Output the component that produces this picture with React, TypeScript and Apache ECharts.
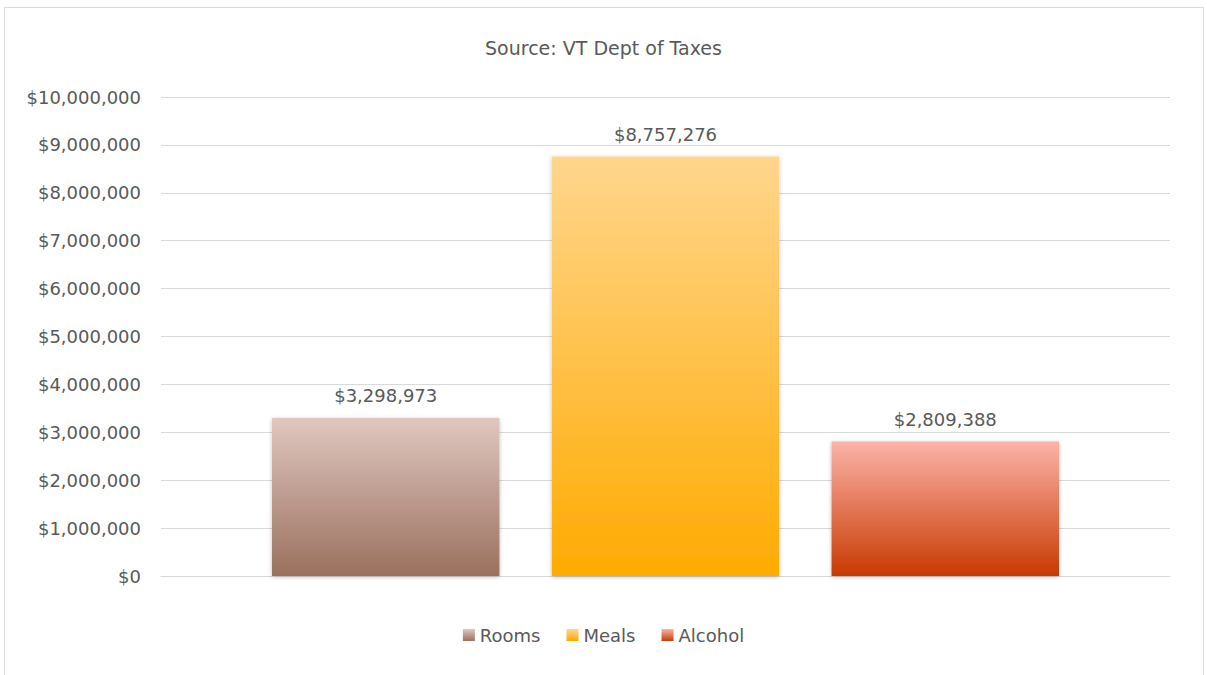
import React, { useEffect, useRef } from "react";
import * as echarts from "echarts";

const categories = [""];
const seriesNames = ["Rooms", "Meals", "Alcohol"];
const roomsValues = [3298973];
const mealsValues = [8757276];
const alcoholValues = [2809388];
const gradientTops = ["#e0c7c0", "#ffd68e", "#fcb3a9"];
const gradientBottoms = ["#9a705e", "#ffab00", "#c83a02"];

const fmt = (v: number) => "$" + Math.round(v).toLocaleString("en-US");

export default function App() {
  const ref = useRef<HTMLDivElement>(null);
  useEffect(() => {
    if (!ref.current) return;
    const chart = echarts.init(ref.current, undefined, { renderer: "svg" });
    const values = [roomsValues, mealsValues, alcoholValues];
    const font = "DejaVu Sans, Verdana, sans-serif";
    chart.setOption({
      animation: false,
      backgroundColor: "#ffffff",
      title: {
        text: "Source: VT Dept of Taxes",
        left: "center",
        top: 33,
        textStyle: { fontFamily: font, fontSize: 19, fontWeight: "normal", color: "#595959" },
      },
      graphic: [
        {
          type: "rect",
          shape: { x: 4.5, y: 7.5, width: 1199, height: 680 },
          style: { fill: "none", stroke: "#d9d9d9", lineWidth: 1 },
          silent: true,
        },
      ],
      legend: {
        bottom: 26,
        left: "center",
        itemWidth: 12,
        itemHeight: 12,
        itemGap: 26,
        icon: "rect",
        textStyle: { fontFamily: font, fontSize: 18, color: "#595959" },
        data: seriesNames,
      },
      grid: { left: 161, right: 37, top: 97, bottom: 99 },
      xAxis: {
        type: "category",
        data: categories,
        axisLabel: { show: false },
        axisTick: { show: false },
        axisLine: { lineStyle: { color: "#d9d9d9", width: 1 } },
      },
      yAxis: {
        type: "value",
        min: 0,
        max: 10000000,
        interval: 1000000,
        axisLine: { show: false },
        axisTick: { show: false },
        axisLabel: {
          formatter: (v: number) => fmt(v),
          fontFamily: font,
          fontSize: 18,
          color: "#595959",
          margin: 20,
        },
        splitLine: { lineStyle: { color: "#d9d9d9", width: 1 } },
      },
      series: seriesNames.map((name, i) => ({
        name,
        type: "bar",
        data: values[i],
        barGap: "23%",
        barCategoryGap: "22%",
        itemStyle: {
          color: new echarts.graphic.LinearGradient(0, 0, 0, 1, [
            { offset: 0, color: gradientTops[i] },
            { offset: 1, color: gradientBottoms[i] },
          ]),
          shadowBlur: 4,
          shadowColor: "rgba(0,0,0,0.25)",
          shadowOffsetY: 1,
        },
        label: {
          show: true,
          position: "top",
          distance: 13,
          formatter: (p: any) => fmt(p.value),
          fontFamily: font,
          fontSize: 18,
          color: "#595959",
        },
      })),
    });
    return () => chart.dispose();
  }, []);
  return (
    <div
      ref={ref}
      style={{ position: "fixed", left: 0, top: 0, width: 1207, height: 675 }}
    />
  );
}
